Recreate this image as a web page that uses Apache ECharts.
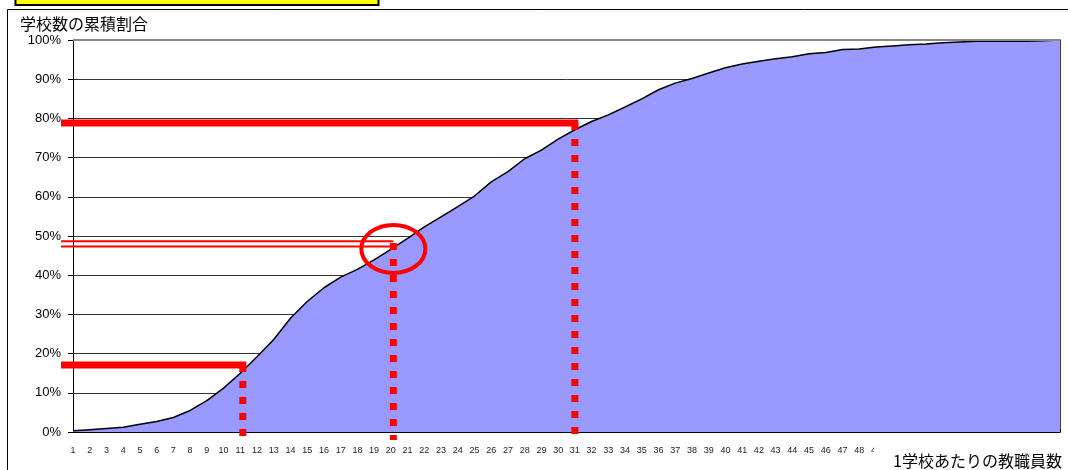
<!DOCTYPE html>
<html>
<head>
<meta charset="utf-8">
<script src="https://cdn.jsdelivr.net/npm/echarts@6/dist/echarts.min.js"></script>
<style>
  html, body { margin: 0; padding: 0; background: #fff; }
  #chart { width: 1068px; height: 470px; }
</style>
</head>
<body>
<div id="chart"></div>
<script>
// 1学校あたりの教職員数 (1..60)
const staffCounts = [];
for (let i = 1; i <= 60; i++) staffCounts.push(String(i));

// 学校数の累積割合 (%)
const cumulativeShare = [
  0.3, 0.6, 0.9, 1.2, 2.0, 2.7, 3.7, 5.5, 8.0, 11.2,
  15.0, 19.2, 23.6, 29.0, 33.3, 36.8, 39.5, 41.5, 43.9, 46.6,
  49.4, 52.3, 54.9, 57.5, 60.2, 63.8, 66.4, 69.7, 71.9, 74.7,
  77.1, 79.2, 80.9, 82.9, 85.0, 87.3, 89.0, 90.2, 91.6, 92.9,
  93.9, 94.6, 95.2, 95.7, 96.5, 96.8, 97.6, 97.7, 98.2, 98.5,
  98.8, 99.0, 99.3, 99.5, 99.7, 99.7, 99.7, 99.7, 99.8, 100
];

// red guide lines drawn over the chart
const guideCats = ['11', '20', '31'];
const guideLevels = [17.1, 48.0, 78.8];
const circleLevel = 46.7;

const yTitle = '学校数の累積割合';
const xTitle = '1学校あたりの教職員数';

const RED = '#FF0000';
const numFont = '"Liberation Sans", Arial, sans-serif';
const jpFont = '"Noto Sans CJK JP", sans-serif';

let myChart = echarts.init(document.getElementById('chart'));

let option = {
  animation: false,
  grid: { left: 73, right: 7, top: 40, bottom: 38 },
  xAxis: {
    type: 'category',
    data: staffCounts,
    boundaryGap: false,
    axisLine: { lineStyle: { color: '#000', width: 1 } },
    axisTick: { inside: true, length: 3, interval: 0, lineStyle: { color: '#000' } },
    axisLabel: { interval: 0, fontSize: 9, color: '#222', margin: 14, fontFamily: numFont },
    splitLine: { show: false }
  },
  yAxis: [
    {
      type: 'value',
      min: 0,
      max: 100,
      interval: 10,
      axisLine: { show: true, lineStyle: { color: '#000', width: 1 } },
      axisTick: { show: true, length: 5, lineStyle: { color: '#000' } },
      axisLabel: { formatter: '{value}%', fontSize: 13, color: '#000', margin: 12, fontFamily: numFont },
      splitLine: { lineStyle: { color: '#333', width: 1 } }
    },
    {
      type: 'value',
      position: 'right',
      min: 0,
      max: 100,
      axisLine: { show: true, lineStyle: { color: '#000', width: 1.5 } },
      axisTick: { show: false },
      axisLabel: { show: false },
      splitLine: { show: false }
    }
  ],
  series: [
    {
      type: 'line',
      data: cumulativeShare,
      symbol: 'none',
      lineStyle: { color: '#000', width: 1.5 },
      areaStyle: { color: '#9999FF', opacity: 1 },
      markLine: {
        silent: true,
        symbol: 'none',
        label: { show: false },
        lineStyle: { color: '#888', width: 2, type: 'solid' },
        data: [{ yAxis: 100 }]
      }
    }
  ]
};
myChart.setOption(option);

// pixel positions from the chart's own scales
const px = (cat, val) => myChart.convertToPixel({ gridIndex: 0 }, [cat, val]);
const axisLeft = px('1', 0)[0];
const axisBottom = px('1', 0)[1];
const dx = [2.5, 2.5, 0];
const dropEnds = [5, 8, 3];

let graphics = [
  // outer frame and cut-off yellow header box
  { type: 'rect', z: 100, shape: { x: 7.5, y: 9.5, width: 1100, height: 500 },
    style: { fill: 'none', stroke: '#000', lineWidth: 1 } },
  { type: 'rect', z: 100, shape: { x: 15.5, y: -10, width: 363, height: 15 },
    style: { fill: '#FFFF00', stroke: '#000', lineWidth: 2 } },
  { type: 'text', z: 100, x: 20, y: 24,
    style: { text: yTitle, fontSize: 16, fontFamily: jpFont, fill: '#000', verticalAlign: 'middle' } },
  // title box hides the later tick labels
  { type: 'rect', z: 100, shape: { x: 874, y: 440, width: 200, height: 40 },
    style: { fill: '#fff' } },
  { type: 'text', z: 101, x: 893, y: 461,
    style: { text: xTitle, fontSize: 16, fontFamily: jpFont, fill: '#000', verticalAlign: 'middle' } }
];

guideCats.forEach((cat, i) => {
  const p = px(cat, guideLevels[i]);
  const x = p[0] + dx[i];
  const y = p[1];
  if (i === 1) {
    // double thin line
    graphics.push(
      { type: 'line', z: 110, shape: { x1: axisLeft - 12, y1: y - 2.7, x2: x, y2: y - 2.7 },
        style: { stroke: RED, lineWidth: 2 } },
      { type: 'line', z: 110, shape: { x1: axisLeft - 12, y1: y + 2.7, x2: x - 3, y2: y + 2.7 },
        style: { stroke: RED, lineWidth: 2 } }
    );
  } else {
    graphics.push({ type: 'line', z: 110, shape: { x1: axisLeft - 12, y1: y, x2: x + 3.5, y2: y },
      style: { stroke: RED, lineWidth: 7 } });
  }
  graphics.push({ type: 'line', z: 110,
    shape: { x1: x, y1: y - (i === 1 ? 0.8 : 0), x2: x, y2: axisBottom + dropEnds[i] },
    style: { stroke: RED, lineWidth: 7, lineDash: [7, 9], lineCap: 'butt' } });
});

const c = px('20', circleLevel);
graphics.push({ type: 'ellipse', z: 110,
  shape: { cx: c[0] + 2.5, cy: c[1], rx: 32, ry: 24 },
  style: { fill: 'none', stroke: RED, lineWidth: 4 } });

myChart.setOption({ graphic: graphics });
</script>
</body>
</html>
